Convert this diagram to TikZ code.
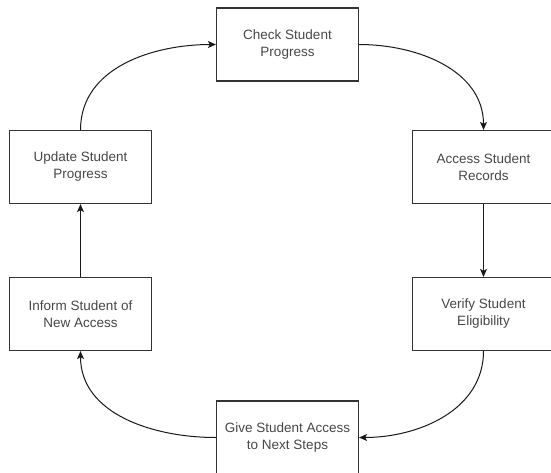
\documentclass[tikz,border=0pt]{standalone}
\usepackage{fontspec}
\setmainfont{Liberation Sans}
\usetikzlibrary{arrows.meta}
\begin{document}
\begin{tikzpicture}[x=1pt,y=-1pt,
  stepbox/.style={draw=black!80, line width=1.2pt, minimum width=142pt, minimum height=73pt,
    align=center, font=\fontsize{13.5}{17}\selectfont, text=black!72, inner sep=0pt},
  flow/.style={draw=black!90, line width=1pt, -{Stealth[length=8pt,width=7pt,inset=2pt]}}]
\useasboundingbox (0,0) rectangle (551,472);
\fill[white] (0,0) rectangle (551,472);
% process steps
\node[stepbox] (check)  at (287.5,44.5) {Check Student\\Progress};
\node[stepbox] (access) at (483.5,167)  {Access Student\\Records};
\node[stepbox] (verify) at (483.5,314)  {Verify Student\\Eligibility};
\node[stepbox] (give)   at (287.5,437.5) {Give Student Access\\to Next Steps};
\node[stepbox] (inform) at (80.5,314)   {Inform Student of\\New Access};
\node[stepbox] (update) at (80.5,167)   {Update Student\\Progress};
% cycle connectors
\draw[flow] (check.east)   to[out=0,in=90]    (access.north);
\draw[flow] (access.south) -- (verify.north);
\draw[flow] (verify.south) to[out=-90,in=0]   (give.east);
\draw[flow] (give.west)    to[out=180,in=-90] (inform.south);
\draw[flow] (inform.north) -- (update.south);
\draw[flow] (update.north) to[out=90,in=180]  (check.west);
\end{tikzpicture}
\end{document}
